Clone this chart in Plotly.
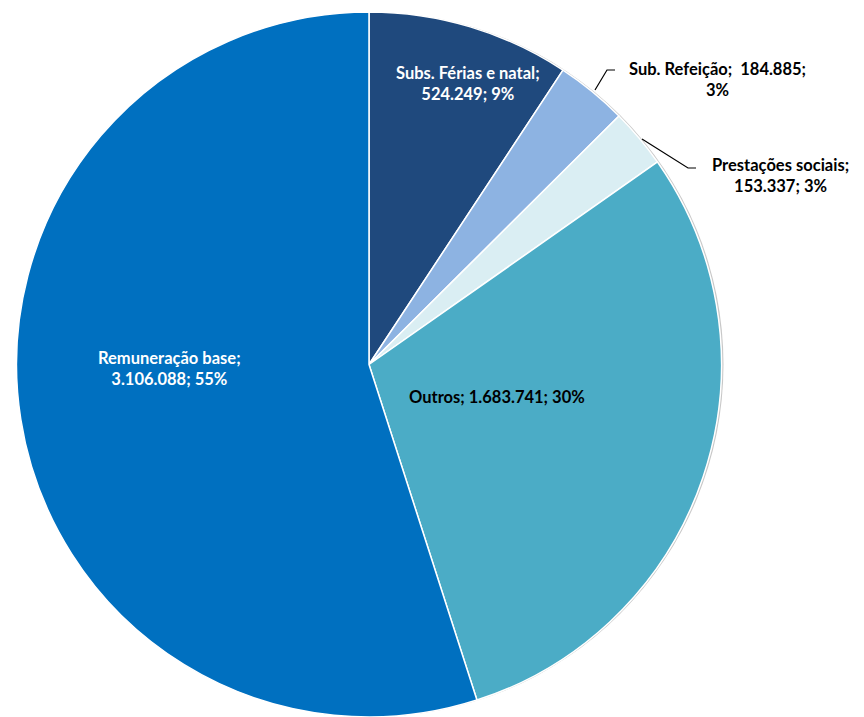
import plotly.graph_objects as go

# Distribution of personnel costs
categories = ["Subs. Férias e natal", "Sub. Refeição", "Prestações sociais",
              "Outros", "Remuneração base"]
values = [524249, 184885, 153337, 1683741, 3106088]
colors = ["#1F497D", "#8DB3E2", "#DAEEF3", "#4BACC6", "#0070C0"]

W, H = 864, 717
total = sum(values)


def fmt_num(v):
    return f"{v:,}".replace(",", ".")


def pct(v):
    return f"{round(100 * v / total)}%"


# label layout: (x px, y px of block centre, text colour, line-break template)
label_layout = {
    "Subs. Férias e natal": (468, 84, "white", "{c};<br>{v}; {p}"),
    "Sub. Refeição": (717, 79, "black", "{c};  {v};<br>{p}"),
    "Prestações sociais": (780, 175, "black", "{c};<br>{v}; {p}"),
    "Outros": (497, 397, "black", "{c}; {v}; {p}"),
    "Remuneração base": (169, 368, "white", "{c};<br>{v}; {p}"),
}

top = 12
y1 = 1 - top / H
y0 = 0.0
r = (y1 - y0) * H / 2
cx = 369
dom_x = [(cx - r) / W, (cx + r) / W]

fig = go.Figure()

# soft drop shadow under the pie
fig.add_trace(go.Pie(
    values=[1], marker=dict(colors=["rgba(0,0,0,0.22)"], line=dict(width=0)),
    domain=dict(x=[dom_x[0] + 2 / W, dom_x[1] + 2 / W], y=[y0, y1]),
    textinfo="none", hoverinfo="skip", showlegend=False, sort=False,
))

fig.add_trace(go.Pie(
    labels=categories, values=values, sort=False, direction="clockwise",
    rotation=0,
    marker=dict(colors=colors, line=dict(color="white", width=1.5)),
    domain=dict(x=dom_x, y=[y0, y1]),
    textinfo="none", showlegend=False,
))

for c, v in zip(categories, values):
    px, py, col, tpl = label_layout[c]
    fig.add_annotation(
        x=px / W, y=1 - py / H, xref="paper", yref="paper",
        text="<b>" + tpl.format(c=c, v=fmt_num(v), p=pct(v)) + "</b>",
        showarrow=False, align="center", xanchor="center", yanchor="middle",
        font=dict(family="Lato", size=16.5, color=col),
    )

# leader lines for the two outside labels
leaders = [
    [(595, 90), (607, 70), (615, 70)],
    [(642, 139), (688, 168), (696, 168)],
]
for pts in leaders:
    path = "M " + " L ".join(f"{x / W},{1 - y / H}" for x, y in pts)
    fig.add_shape(type="path", path=path, xref="paper", yref="paper",
                  line=dict(color="black", width=1.2))

fig.update_layout(
    width=W, height=H, margin=dict(l=0, r=0, t=0, b=0),
    paper_bgcolor="white", plot_bgcolor="white",
)

fig.write_html("out.html")
